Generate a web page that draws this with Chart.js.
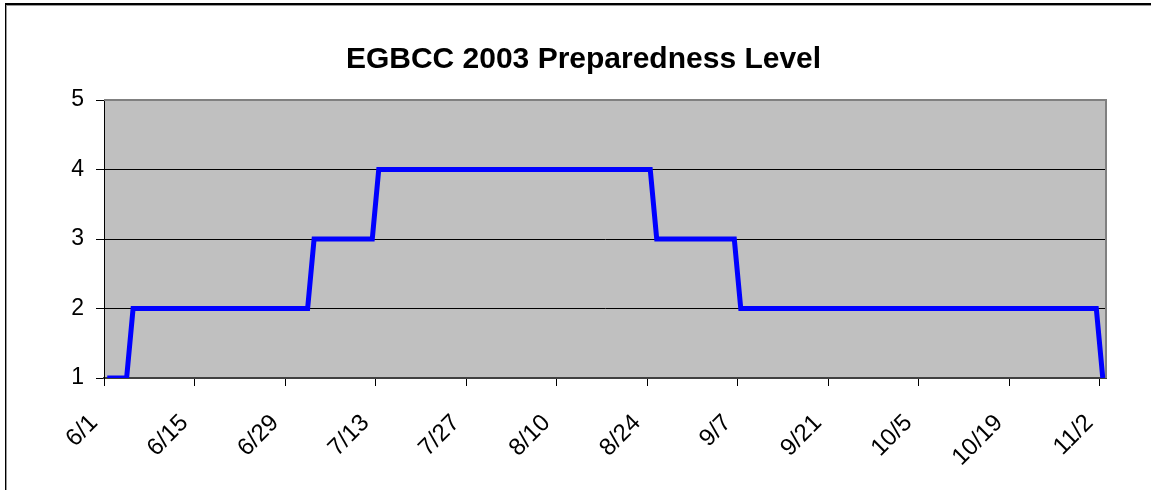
<!DOCTYPE html>
<html>
<head>
<meta charset="utf-8">
<title>EGBCC 2003 Preparedness Level</title>
<script src="https://cdn.jsdelivr.net/npm/chart.js@4/dist/chart.umd.min.js"></script>
<style>
    html, body { margin: 0; padding: 0; background: #fff; }
    #wrap { position: relative; width: 1151px; height: 490px; overflow: hidden; }
    #frame {
        position: absolute; left: 5px; top: 3px; width: 1200px; height: 600px;
        border-left: 1px solid #000; border-top: 2px solid #000;
        box-shadow: inset 1px 1px 0 #999;
        pointer-events: none;
    }
    canvas { position: absolute; left: 0; top: 0; }
</style>
</head>
<body>
<div id="wrap">
    <canvas id="levelChart" width="1151" height="490"></canvas>
    <div id="frame"></div>
</div>
<script>
// Preparedness level for each day, 6/1 .. 11/2 (one row per two weeks)
const LEVELS = [
    1, 1, 1, 1, 2, 2, 2, 2, 2, 2, 2, 2, 2, 2,   // 6/1
    2, 2, 2, 2, 2, 2, 2, 2, 2, 2, 2, 2, 2, 2,   // 6/15
    2, 2, 2, 2, 3, 3, 3, 3, 3, 3, 3, 3, 3, 3,   // 6/29
    4, 4, 4, 4, 4, 4, 4, 4, 4, 4, 4, 4, 4, 4,   // 7/13
    4, 4, 4, 4, 4, 4, 4, 4, 4, 4, 4, 4, 4, 4,   // 7/27
    4, 4, 4, 4, 4, 4, 4, 4, 4, 4, 4, 4, 4, 4,   // 8/10
    4, 3, 3, 3, 3, 3, 3, 3, 3, 3, 3, 3, 3, 3,   // 8/24
    2, 2, 2, 2, 2, 2, 2, 2, 2, 2, 2, 2, 2, 2,   // 9/7
    2, 2, 2, 2, 2, 2, 2, 2, 2, 2, 2, 2, 2, 2,   // 9/21
    2, 2, 2, 2, 2, 2, 2, 2, 2, 2, 2, 2, 2, 2,   // 10/5
    2, 2, 2, 2, 2, 2, 2, 2, 2, 2, 2, 2, 2, 2,   // 10/19
    1                                           // 11/2
];

// Axis labels: day index from 6/1 and its date
const TICK_DAYS = [0, 14, 28, 42, 56, 70, 84, 98, 112, 126, 140, 154];
const TICK_LABELS = ['6/1', '6/15', '6/29', '7/13', '7/27', '8/10', '8/24', '9/7', '9/21', '10/5', '10/19', '11/2'];
const Y_MIN = 1;
const Y_MAX = 5;

const FONT = "'Liberation Sans', Arial, sans-serif";

// Each day sits in the middle of its slot, like Excel's category axis
const points = LEVELS.map((level, day) => ({ x: day + 0.5, y: level }));

// Gray plot area with gray top/right edges
const plotArea = {
    id: 'plotArea',
    beforeDraw(chart) {
        const { ctx, chartArea: a } = chart;
        ctx.save();
        ctx.fillStyle = '#C0C0C0';
        ctx.fillRect(a.left, a.top, a.right - a.left, a.bottom - a.top);
        ctx.restore();
    },
    beforeDatasetsDraw(chart) {
        const { ctx, chartArea: a } = chart;
        ctx.save();
        ctx.strokeStyle = '#808080';
        ctx.lineWidth = 2;
        ctx.beginPath();
        ctx.moveTo(a.left, a.top);
        ctx.lineTo(a.right, a.top);
        ctx.lineTo(a.right, a.bottom);
        ctx.stroke();
        ctx.restore();
    }
};

new Chart(document.getElementById('levelChart'), {
    type: 'line',
    data: {
        datasets: [{
            label: 'Preparedness Level',
            data: points,
            borderColor: '#0000FF',
            borderWidth: 5,
            borderJoinStyle: 'miter',
            pointRadius: 0,
            tension: 0,
            fill: false
        }]
    },
    options: {
        responsive: false,
        animation: false,
        devicePixelRatio: 1,
        // left padding so the title centres on the outer frame
        layout: { padding: { left: 16, right: 0, top: 0, bottom: 0 } },
        plugins: {
            legend: { display: false },
            tooltip: { enabled: false },
            title: {
                display: true,
                text: 'EGBCC 2003 Preparedness Level',
                color: '#000',
                font: { family: FONT, size: 30, weight: 'bold', lineHeight: 1.2 },
                padding: { top: 42, bottom: 22 }
            }
        },
        scales: {
            x: {
                type: 'linear',
                min: 0,
                max: LEVELS.length,
                afterBuildTicks: (axis) => {
                    axis.ticks = TICK_DAYS.map(v => ({ value: v }));
                },
                afterFit: (axis) => { axis.height = 112; },
                grid: {
                    drawOnChartArea: false,
                    drawTicks: true,
                    tickLength: 8,
                    tickColor: '#000'
                },
                border: { display: true, color: '#404040', width: 2 },
                ticks: {
                    autoSkip: false,
                    minRotation: 45,
                    maxRotation: 45,
                    padding: 23,
                    labelOffset: -10,
                    color: '#000',
                    font: { family: FONT, size: 24 },
                    callback: (value) => TICK_LABELS[TICK_DAYS.indexOf(value)] ?? ''
                }
            },
            y: {
                min: Y_MIN,
                max: Y_MAX,
                afterFit: (axis) => { axis.width = 88; },
                grid: {
                    color: (ctx) => (ctx.tick && ctx.tick.value === Y_MAX) ? '#808080' : '#000',
                    lineWidth: 1,
                    tickLength: 8,
                    tickColor: '#000'
                },
                border: { display: true, color: '#000', width: 1 },
                ticks: {
                    stepSize: 1,
                    padding: 12,
                    color: '#000',
                    font: { family: FONT, size: 23 }
                }
            },
            // empty strip on the right, keeps the plot clear of the edge
            yRight: {
                position: 'right',
                min: Y_MIN,
                max: Y_MAX,
                afterFit: (axis) => { axis.width = 45; },
                grid: { display: false },
                border: { display: false },
                ticks: { display: false }
            }
        }
    },
    plugins: [plotArea]
});
</script>
</body>
</html>
